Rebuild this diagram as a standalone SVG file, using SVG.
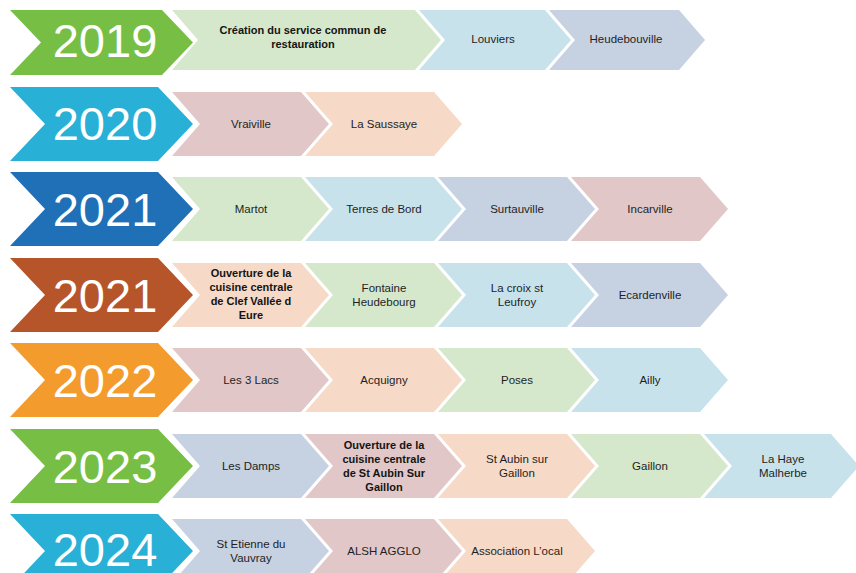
<svg xmlns="http://www.w3.org/2000/svg" width="856" height="573" viewBox="0 0 856 573">
<style>
.yr{font-family:"Liberation Sans",Arial,sans-serif;font-size:47px;fill:#fff;text-anchor:middle}
.lb{font-family:"Liberation Sans",Arial,sans-serif;font-size:11.5px;fill:#1f1f1f;text-anchor:middle}
.bd{font-weight:bold;font-size:11px;fill:#141414}
.g{fill:#d5e8cc}.b{fill:#c8e2ec}.s{fill:#c6d1e1}.p{fill:#e1c7c7}.o{fill:#f6d9c6}
</style>
<rect width="856" height="573" fill="#fff"/>
<!-- 2019 -->
<g id="y2019"><polygon points="10,10 162,10 193,42.5 162,75 10,75 41,42.5" fill="#77bf44"/><text class="yr" x="105" y="57">2019</text></g>
<g id="n2019a"><polygon class="g" points="172,10 415,10 441,40 415,70 172,70 198,40"/><text class="lb bd" x="303" y="34">Création du service commun de</text><text class="lb bd" x="303" y="48">restauration</text></g>
<g id="n2019b"><polygon class="b" points="419,10 545,10 571,40 545,70 419,70 445,40"/><text class="lb" x="493" y="43">Louviers</text></g>
<g id="n2019c"><polygon class="s" points="549,10 679,10 705,40 679,70 549,70 575,40"/><text class="lb" x="626" y="43">Heudebouville</text></g>
<!-- 2020 -->
<g id="y2020"><polygon points="10,87 158,87 193,124 158,161 10,161 45,124" fill="#29b0d6"/><text class="yr" x="105" y="140">2020</text></g>
<g id="n2020a"><polygon class="p" points="172,92 301,92 329,124 301,156 172,156 200,124"/><text class="lb" x="251" y="128">Vraiville</text></g>
<g id="n2020b"><polygon class="o" points="305,92 434,92 462,124 434,156 305,156 333,124"/><text class="lb" x="384" y="128">La Saussaye</text></g>
<!-- 2021 a -->
<g id="y2021a"><polygon points="10,172 158,172 193,209 158,246 10,246 45,209" fill="#1f70b7"/><text class="yr" x="105" y="226">2021</text></g>
<g id="n2021a1"><polygon class="g" points="172,177 301,177 329,209 301,241 172,241 200,209"/><text class="lb" x="251" y="213">Martot</text></g>
<g id="n2021a2"><polygon class="b" points="305,177 434,177 462,209 434,241 305,241 333,209"/><text class="lb" x="384" y="213">Terres de Bord</text></g>
<g id="n2021a3"><polygon class="s" points="438,177 567,177 595,209 567,241 438,241 466,209"/><text class="lb" x="517" y="213">Surtauville</text></g>
<g id="n2021a4"><polygon class="p" points="571,177 700,177 728,209 700,241 571,241 599,209"/><text class="lb" x="650" y="213">Incarville</text></g>
<!-- 2021 b -->
<g id="y2021b"><polygon points="10,258 158,258 193,295 158,332 10,332 45,295" fill="#b6552a"/><text class="yr" x="105" y="312">2021</text></g>
<g id="n2021b1"><polygon class="o" points="172,263 301,263 329,295 301,327 172,327 200,295"/><text class="lb bd" x="251" y="277">Ouverture de la</text><text class="lb bd" x="251" y="291">cuisine centrale</text><text class="lb bd" x="251" y="305">de Clef Vallée d</text><text class="lb bd" x="251" y="319">Eure</text></g>
<g id="n2021b2"><polygon class="g" points="305,263 434,263 462,295 434,327 305,327 333,295"/><text class="lb" x="384" y="292">Fontaine</text><text class="lb" x="384" y="306">Heudebourg</text></g>
<g id="n2021b3"><polygon class="b" points="438,263 567,263 595,295 567,327 438,327 466,295"/><text class="lb" x="517" y="292">La croix st</text><text class="lb" x="517" y="306">Leufroy</text></g>
<g id="n2021b4"><polygon class="s" points="571,263 700,263 728,295 700,327 571,327 599,295"/><text class="lb" x="650" y="299">Ecardenville</text></g>
<!-- 2022 -->
<g id="y2022"><polygon points="10,343 158,343 193,380 158,417 10,417 45,380" fill="#f39b2d"/><text class="yr" x="105" y="397">2022</text></g>
<g id="n2022a"><polygon class="p" points="172,348 301,348 329,380 301,412 172,412 200,380"/><text class="lb" x="251" y="384">Les 3 Lacs</text></g>
<g id="n2022b"><polygon class="o" points="305,348 434,348 462,380 434,412 305,412 333,380"/><text class="lb" x="384" y="384">Acquigny</text></g>
<g id="n2022c"><polygon class="g" points="438,348 567,348 595,380 567,412 438,412 466,380"/><text class="lb" x="517" y="384">Poses</text></g>
<g id="n2022d"><polygon class="b" points="571,348 700,348 728,380 700,412 571,412 599,380"/><text class="lb" x="650" y="384">Ailly</text></g>
<!-- 2023 -->
<g id="y2023"><polygon points="10,429 158,429 193,466 158,503 10,503 45,466" fill="#77bf44"/><text class="yr" x="105" y="483">2023</text></g>
<g id="n2023a"><polygon class="s" points="172,434 301,434 329,466 301,498 172,498 200,466"/><text class="lb" x="251" y="470">Les Damps</text></g>
<g id="n2023b"><polygon class="p" points="305,434 434,434 462,466 434,498 305,498 333,466"/><text class="lb bd" x="384" y="449">Ouverture de la</text><text class="lb bd" x="384" y="463">cuisine centrale</text><text class="lb bd" x="384" y="477">de St Aubin Sur</text><text class="lb bd" x="384" y="491">Gaillon</text></g>
<g id="n2023c"><polygon class="o" points="438,434 567,434 595,466 567,498 438,498 466,466"/><text class="lb" x="517" y="463">St Aubin sur</text><text class="lb" x="517" y="477">Gaillon</text></g>
<g id="n2023d"><polygon class="g" points="571,434 700,434 728,466 700,498 571,498 599,466"/><text class="lb" x="650" y="470">Gaillon</text></g>
<g id="n2023e"><polygon class="b" points="704,434 831,434 859,466 831,498 704,498 732,466"/><text class="lb" x="783" y="463">La Haye</text><text class="lb" x="783" y="477">Malherbe</text></g>
<!-- 2024 -->
<g id="y2024"><polygon points="10,514 158,514 193,551 158,588 10,588 45,551" fill="#29b0d6"/><text class="yr" x="105" y="566">2024</text></g>
<g id="n2024a"><polygon class="s" points="172,519 301,519 329,551 301,583 172,583 200,551"/><text class="lb" x="251" y="548">St Etienne du</text><text class="lb" x="251" y="562">Vauvray</text></g>
<g id="n2024b"><polygon class="p" points="305,519 434,519 462,551 434,583 305,583 333,551"/><text class="lb" x="384" y="555">ALSH AGGLO</text></g>
<g id="n2024c"><polygon class="o" points="438,519 567,519 595,551 567,583 438,583 466,551"/><text class="lb" x="517" y="555">Association L’ocal</text></g>
<g id="connectors"></g>
</svg>
